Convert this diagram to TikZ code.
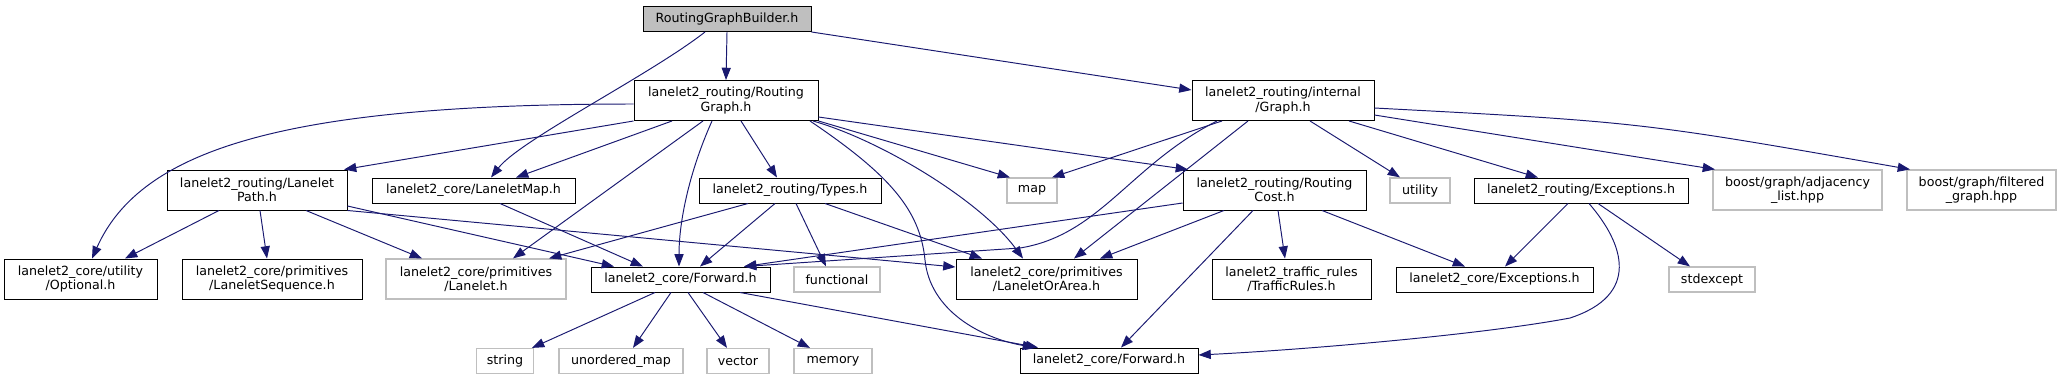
\documentclass[tikz,border=0pt]{standalone}
\usepackage{fontspec}
\usepackage{tikz}
\usetikzlibrary{arrows.meta}
\setmainfont{DejaVu Sans}
\definecolor{clrE}{RGB}{25,25,112}
\definecolor{clrS}{RGB}{191,191,191}
\definecolor{clrR}{RGB}{191,191,191}
\tikzset{
  hdr/.style={draw=black,line width=0.55pt,rectangle,inner sep=0pt,align=center,minimum height=0.5cm},
  sys/.style={hdr,draw=clrS,line width=0.7pt},
  root/.style={hdr,fill=clrR},
  two/.style={minimum height=0.8cm},
  bw/.style={minimum width=#1*0.02cm},
  dep/.style={draw=clrE,line width=0.55pt,-{Triangle[length=7pt,width=5.2pt]}}
}

\begin{document}
\begin{tikzpicture}[x=0.02cm,y=-0.02cm,font=\fontsize{7.2}{8.2}\selectfont]
  \useasboundingbox (0,0) rectangle (2061,380);

  % top rows
  \node[root,bw=168] (rgb) at (727,19) {RoutingGraphBuilder.h};
  \node[hdr,two,bw=184] (rg) at (726,100.5) {lanelet2\_routing/Routing\\Graph.h};
  \node[hdr,two,bw=182] (graph) at (1283,100.5) {lanelet2\_routing/internal\\/Graph.h};

  % middle row
  \node[hdr,two,bw=180] (path) at (257,190) {lanelet2\_routing/Lanelet\\Path.h};
  \node[hdr,bw=203] (lmap) at (473.5,190.5) {lanelet2\_core/LaneletMap.h};
  \node[hdr,bw=182] (types) at (790,190.5) {lanelet2\_routing/Types.h};
  \node[sys,bw=50] (map) at (1032,190.5) {map};
  \node[hdr,two,bw=183] (cost) at (1274.5,190) {lanelet2\_routing/Routing\\Cost.h};
  \node[sys,bw=60] (utility) at (1420,190.5) {utility};
  \node[hdr,bw=214] (rexc) at (1581,190.5) {lanelet2\_routing/Exceptions.h};
  \node[sys,two,bw=169] (adj) at (1797.5,190) {boost/graph/adjacency\\\_list.hpp};
  \node[sys,two,bw=149] (filt) at (1981.5,190) {boost/graph/filtered\\\_graph.hpp};

  % lower row
  \node[hdr,two,bw=153] (opt) at (80.5,279) {lanelet2\_core/utility\\/Optional.h};
  \node[hdr,two,bw=180] (seq) at (272,279) {lanelet2\_core/primitives\\/LaneletSequence.h};
  \node[sys,two,bw=180] (llt) at (476,279) {lanelet2\_core/primitives\\/Lanelet.h};
  \node[hdr,bw=179] (fwd) at (680.5,279.5) {lanelet2\_core/Forward.h};
  \node[sys,bw=86] (func) at (837,279.5) {functional};
  \node[hdr,two,bw=181] (loa) at (1046.5,279) {lanelet2\_core/primitives\\/LaneletOrArea.h};
  \node[hdr,two,bw=159] (traffic) at (1291.5,279) {lanelet2\_traffic\_rules\\/TrafficRules.h};
  \node[hdr,bw=197] (cexc) at (1494.5,279.5) {lanelet2\_core/Exceptions.h};
  \node[sys,bw=86] (stdexc) at (1712,279.5) {stdexcept};

  % bottom row
  \node[sys,bw=57] (string) at (505,361) {string};
  \node[sys,bw=124] (umap) at (621,361) {unordered\_map};
  \node[sys,bw=62] (vector) at (738,361) {vector};
  \node[sys,bw=78] (memory) at (833,361) {memory};
  \node[hdr,bw=178] (fwd2) at (1109,360.5) {lanelet2\_core/Forward.h};

  % RoutingGraphBuilder.h
  \draw[dep] (rgb.south) -- (rg.north);
  \draw[dep] (rgb.south -| 705,0) .. controls (650,75) and (520,140) .. (lmap.north -| 491,0);
  \draw[dep] (rgb.south east) -- (graph.west |- 0,90);

  % RoutingGraph.h
  \draw[dep] (rg.west |- 0,104) .. controls (285,104) and (141,149) .. (opt.north -| 92,0);
  \draw[dep] (rg.south west) -- (path.north -| 344,0);
  \draw[dep] (rg.south -| 672,0) -- (lmap.north -| 516,0);
  \draw[dep] (rg.south -| 703,0) -- (llt.north -| 513,0);
  \draw[dep] (rg.south -| 712,0) .. controls (690,170) and (679,220) .. (fwd.north -| 679,0);
  \draw[dep] (rg.south -| 741,0) -- (types.north -| 777,0);
  \draw[dep] (rg.south -| 810,0) .. controls (890,175) and (920,210) .. (925,260)
    .. controls (930,310) and (980,338) .. (fwd2.north -| 1035,0);
  \draw[dep] (rg.south -| 813,0) .. controls (880,140) and (980,200) .. (loa.north -| 1023,0);
  \draw[dep] (rg.south east) -- (map.north -| 1010,0);
  \draw[dep] (rg.east |- 0,117) -- (cost.north -| 1188,0);

  % internal/Graph.h
  \draw[dep] (graph.south -| 1222,0) -- (map.north -| 1052,0);
  \draw[dep] (graph.south -| 1217,0) .. controls (1130,165) and (1100,235) .. (1020,248) -- (fwd.north -| 744,0);
  \draw[dep] (graph.south -| 1248,0) -- (loa.north -| 1074,0);
  \draw[dep] (graph.south -| 1310,0) -- (utility.north -| 1400,0);
  \draw[dep] (graph.south -| 1349,0) -- (rexc.north -| 1538,0);
  \draw[dep] (graph.east |- 0,115) -- (adj.north -| 1715,0);
  \draw[dep] (graph.east |- 0,108) .. controls (1640,122) .. (filt.north -| 1910,0);

  % LaneletPath.h, LaneletMap.h
  \draw[dep] (path.south -| 219,0) -- (opt.north -| 125,0);
  \draw[dep] (path.south -| 260,0) -- (seq.north -| 267,0);
  \draw[dep] (path.south -| 306,0) -- (llt.north -| 422,0);
  \draw[dep] (path.east |- 0,206) -- (fwd.north -| 614,0);
  \draw[dep] (path.south east) -- (loa.west |- 0,267);
  \draw[dep] (lmap.south -| 500,0) -- (fwd.north -| 643,0);

  % Types.h
  \draw[dep] (types.south -| 748,0) -- (llt.north -| 549,0);
  \draw[dep] (types.south -| 775,0) -- (fwd.north -| 700,0);
  \draw[dep] (types.south -| 796,0) -- (func.north -| 826,0);
  \draw[dep] (types.south -| 825,0) -- (loa.north -| 982,0);

  % RoutingCost.h
  \draw[dep] (cost.west |- 0,203) -- (fwd.north -| 744,0);
  \draw[dep] (cost.south -| 1224,0) -- (loa.north -| 1100,0);
  \draw[dep] (cost.south -| 1278,0) -- (traffic.north -| 1285,0);
  \draw[dep] (cost.south -| 1253,0) -- (fwd2.north -| 1121,0);
  \draw[dep] (cost.south -| 1322,0) -- (cexc.north -| 1465,0);

  % Exceptions.h
  \draw[dep] (rexc.south -| 1568,0) -- (cexc.north -| 1505,0);
  \draw[dep] (rexc.south -| 1598,0) -- (stdexc.north -| 1690,0);
  \draw[dep] (rexc.south -| 1589,0) .. controls (1625,245) and (1640,295) .. (1570,318)
    .. controls (1480,335) and (1300,350) .. (fwd2.east |- 0,355);

  % Forward.h
  \draw[dep] (fwd.south -| 655,0) -- (string.north -| 532,0);
  \draw[dep] (fwd.south -| 671,0) -- (umap.north -| 633,0);
  \draw[dep] (fwd.south -| 688,0) -- (vector.north -| 727,0);
  \draw[dep] (fwd.south -| 703,0) -- (memory.north -| 810,0);
  \draw[dep] (fwd.south -| 740,0) -- (fwd2.north -| 1038,0);
\end{tikzpicture}
\end{document}
